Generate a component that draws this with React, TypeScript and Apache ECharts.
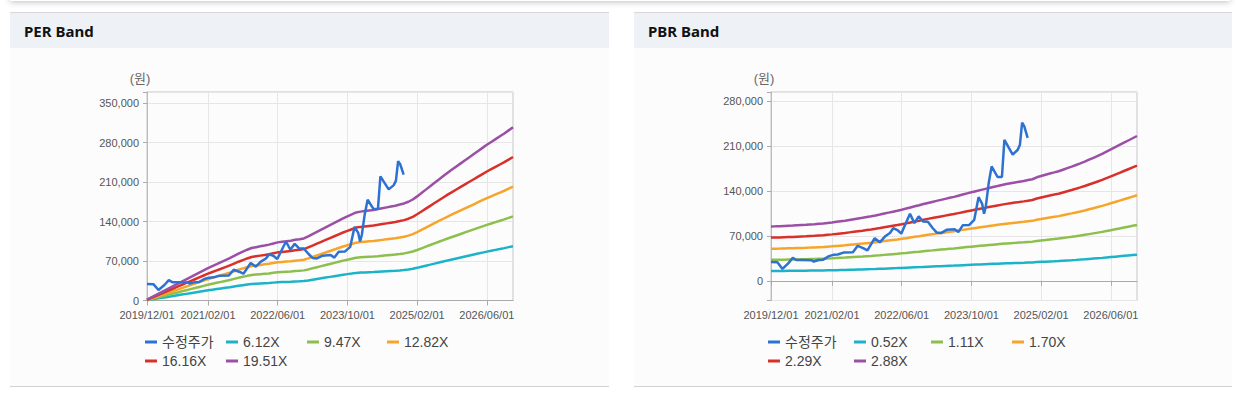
import React, { useEffect, useRef } from "react";
import * as echarts from "echarts";

// ---------- data ----------
const LABEL_DATES = ["2019/12/01", "2021/02/01", "2022/06/01", "2023/10/01", "2025/02/01", "2026/06/01"];

const MONTHS: string[] = [];
for (let y = 2019, m = 12; y < 2026 || (y === 2026 && m <= 12); ) {
  MONTHS.push(`${y}/${String(m).padStart(2, "0")}/01`);
  m++;
  if (m > 12) { m = 1; y++; }
}

const PER_MULTIPLES = [6.12, 9.47, 12.82, 16.16, 19.51];
const PBR_MULTIPLES = [0.52, 1.11, 1.7, 2.29, 2.88];
const BAND_COLORS = ["#1cb3c8", "#8cbf4e", "#f7a52a", "#d8302b", "#9b50a6"];
const PRICE_COLOR = "#2d72d2";

// EPS (monthly, 2019/12 .. 2026/12)
const EPS = [
  77, 282, 487, 692, 897, 1102, 1307, 1512, 1717, 1922, 2127, 2332, 2537, 2742, 2947,
  3127, 3306, 3485, 3665, 3844, 4049, 4254, 4434, 4613, 4767, 4844, 4921, 4997, 5074, 5177,
  5279, 5331, 5382, 5433, 5510, 5561, 5638, 5818, 6023, 6228, 6433, 6638, 6843, 7048, 7253,
  7458, 7637, 7816, 7996, 8073, 8124, 8175, 8227, 8303, 8380, 8457, 8534, 8611, 8713, 8816,
  8970, 9175, 9457, 9764, 10072, 10379, 10687, 10994, 11302, 11609, 11891, 12173, 12455, 12737, 13019,
  13301, 13583, 13865, 14147, 14403, 14659, 14915, 15172, 15454, 15735,
];

// BPS (monthly, 2019/12 .. 2026/12)
const BPS = [
  29479, 29514, 29583, 29688, 29792, 29896, 30035, 30174, 30313, 30486, 30660, 30868, 31076, 31354, 31632,
  31944, 32257, 32569, 32986, 33368, 33750, 34132, 34549, 34965, 35417, 35903, 36424, 36944, 37465, 37986,
  38542, 39132, 39757, 40382, 40972, 41597, 42188, 42743, 43299, 43854, 44410, 44965, 45486, 46111, 46736,
  47361, 47951, 48542, 49132, 49688, 50243, 50799, 51354, 51910, 52431, 52882, 53299, 53715, 54132, 54583,
  55035, 56076, 56771, 57465, 58160, 58750, 59375, 60208, 61042, 61875, 62743, 63646, 64583, 65625, 66667,
  67708, 68750, 69965, 71181, 72396, 73611, 74826, 76042, 77257, 78472,
];

// adjusted stock price (수정주가)
const PRICE_DATES = [
  "2019-12-01", "2020-01-15", "2020-02-20", "2020-04-01", "2020-05-01", "2020-05-25", "2020-07-01",
  "2020-09-10", "2020-09-25", "2020-11-01", "2020-12-01", "2021-01-05", "2021-02-10", "2021-03-10",
  "2021-04-20", "2021-06-25", "2021-07-28", "2021-09-05", "2021-10-05", "2021-11-25", "2021-12-30",
  "2022-02-05", "2022-03-10", "2022-04-03", "2022-05-05", "2022-05-28", "2022-06-20", "2022-07-28",
  "2022-08-28", "2022-09-28", "2022-10-28", "2022-12-01", "2023-01-05", "2023-02-01", "2023-03-01",
  "2023-04-10", "2023-06-05", "2023-07-01", "2023-08-01", "2023-09-15", "2023-10-20", "2023-11-20",
  "2023-12-15", "2023-12-28", "2024-01-10", "2024-01-30", "2024-02-20", "2024-04-01", "2024-05-01",
  "2024-05-18", "2024-07-15", "2024-08-20", "2024-09-05", "2024-09-20", "2024-10-05", "2024-10-28",
];
const PRICE_VALUES = [
  29200, 29000, 18500, 27500, 36000, 32500, 32500,
  32000, 30000, 32500, 33000, 38000, 40500, 41000,
  44000, 44500, 54500, 51000, 47500, 66500, 60000,
  69000, 74500, 82000, 78500, 73500, 85000, 104500,
  90000, 100500, 92500, 92000, 82000, 75500, 74500,
  79500, 80500, 76000, 86500, 87000, 95000, 130500,
  120000, 104500, 116000, 152500, 178500, 162000, 162000,
  220000, 197000, 204500, 212500, 247000, 241000, 223000,
];

const PER_Y = { min: 0, max: 369500 };
const PBR_Y = { min: -30800, max: 294700 };
const Y_STEP = 70000;

// ---------- helpers ----------
const monthPos = (s: string) => {
  const [y, m, d] = s.split("-").map(Number);
  return (y - 2019) * 12 + (m - 12) + (d - 1) / 30;
};
const fmt = (v: number) =>
  Math.abs(v % Y_STEP) > 1 ? "" : String(Math.round(v)).replace(/\B(?=(\d{3})+(?!\d))/g, ",");
const showLabel = (_i: number, val: string) => LABEL_DATES.includes(val);

const FONT = "Arial, 'Liberation Sans', 'Noto Sans CJK KR', sans-serif";

function buildGrid(g: number, left: number, yr: { min: number; max: number }) {
  const grid = { left, top: 92, width: 366, height: 208.5, show: true, borderColor: "#c6c6c6", borderWidth: 1 };
  const xCat = {
    type: "category", gridIndex: g, data: MONTHS, boundaryGap: false,
    axisLine: { show: true, lineStyle: { color: "#aaaaaa" } },
    axisTick: { show: true, interval: showLabel, length: 5, lineStyle: { color: "#aaaaaa" } },
    axisLabel: { interval: showLabel, color: "#555", fontSize: 11, fontFamily: FONT, margin: 9 },
    splitLine: { show: true, interval: showLabel, lineStyle: { color: "#e6e6e6" } },
  };
  const xVal = { type: "value", gridIndex: g, min: 0, max: MONTHS.length - 1, show: false };
  const y = {
    type: "value", gridIndex: g, min: yr.min, max: yr.max, minInterval: Y_STEP, maxInterval: Y_STEP,
    name: "(원)", nameLocation: "end", nameGap: 7,
    nameTextStyle: { color: "#666", fontSize: 13, fontFamily: FONT, padding: [0, 14, 0, 0] },
    axisLine: { show: true, lineStyle: { color: "#bbbbbb" } },
    axisTick: { show: true, length: 4, lineStyle: { color: "#aaaaaa" } },
    axisLabel: { color: "#555", fontSize: 11, fontFamily: FONT, margin: 8, formatter: fmt },
    splitLine: { show: true, lineStyle: { color: "#e6e6e6" } },
  };
  return { grid, xCat, xVal, y };
}

function bandSeries(g: number, perShare: number[], mults: number[]) {
  return mults.map((m, k) => ({
    type: "line", name: `${m.toFixed(2)}X`, xAxisIndex: g * 2, yAxisIndex: g,
    data: perShare.map((v) => Math.round(v * m)),
    symbol: "none", showSymbol: false, silent: true,
    lineStyle: { width: 2.5, color: BAND_COLORS[k] }, itemStyle: { color: BAND_COLORS[k] },
  }));
}

function priceSeries(g: number) {
  return {
    type: "line", name: "수정주가", xAxisIndex: g * 2 + 1, yAxisIndex: g,
    data: PRICE_DATES.map((d, i) => [monthPos(d), PRICE_VALUES[i]]),
    symbol: "none", showSymbol: false, silent: true,
    lineStyle: { width: 2.5, color: PRICE_COLOR }, itemStyle: { color: PRICE_COLOR },
  };
}

function legendItems(names: string[], pos: number[][]) {
  return names.map((n, i) => ({
    data: [n], left: pos[i][0], top: pos[i][1] - 8, padding: 0, icon: "rect",
    itemWidth: 12, itemHeight: 3, itemGap: 0, selectedMode: false,
    textStyle: { fontSize: 14, color: "#444", fontFamily: FONT },
  }));
}

function panel(x: number, w: number) {
  return [
    { type: "rect", z: -10, shape: { x, y: 12, width: w, height: 374 }, style: { fill: "#fcfcfc" } },
    { type: "rect", z: -9, shape: { x, y: 12, width: w, height: 36 }, style: { fill: "#eef2f7" } },
    { type: "line", z: -8, shape: { x1: x, y1: 12.5, x2: x + w, y2: 12.5 }, style: { stroke: "#d8d8d8", lineWidth: 1 } },
    { type: "line", z: -8, shape: { x1: x, y1: 386.5, x2: x + w, y2: 386.5 }, style: { stroke: "#d2d2d2", lineWidth: 1 } },
  ];
}

export default function App() {
  const ref = useRef<HTMLDivElement>(null);
  useEffect(() => {
    if (!ref.current) return;
    const chart = echarts.init(ref.current, undefined, { renderer: "svg" });
    const L = buildGrid(0, 147, PER_Y);
    const R = buildGrid(1, 771, PBR_Y);
    const perNames = ["수정주가", ...PER_MULTIPLES.map((m) => `${m.toFixed(2)}X`)];
    const pbrNames = ["수정주가", ...PBR_MULTIPLES.map((m) => `${m.toFixed(2)}X`)];
    const option: any = {
      animation: false,
      backgroundColor: "#ffffff",
      title: [
        { text: "PER Band", left: 24, top: 23, padding: 0, textStyle: { fontSize: 15, fontWeight: "bold", color: "#111", fontFamily: "'Noto Sans', sans-serif" } },
        { text: "PBR Band", left: 648, top: 23, padding: 0, textStyle: { fontSize: 15, fontWeight: "bold", color: "#111", fontFamily: "'Noto Sans', sans-serif" } },
      ],
      grid: [L.grid, R.grid],
      xAxis: [L.xCat, L.xVal, R.xCat, R.xVal],
      yAxis: [L.y, R.y],
      legend: [
        ...legendItems(perNames, [[145, 343], [226, 343], [307, 343], [387, 343], [145, 362], [226, 362]]),
        ...legendItems(pbrNames, [[768, 343], [854, 343], [931, 343], [1012, 343], [768, 362], [854, 362]]),
      ],
      graphic: [
        { type: "rect", z: -11, shape: { x: 10, y: -20, width: 1220, height: 21 }, style: { fill: "#fff", shadowBlur: 6, shadowColor: "rgba(0,0,0,0.25)", shadowOffsetY: 1 } },
        ...panel(10, 599),
        ...panel(634, 598),
      ],
      series: [
        ...bandSeries(0, EPS, PER_MULTIPLES),
        priceSeries(0),
        ...bandSeries(1, BPS, PBR_MULTIPLES),
        priceSeries(1),
      ],
    };
    chart.setOption(option);
    return () => chart.dispose();
  }, []);
  return <div ref={ref} style={{ position: "absolute", left: 0, top: 0, width: 1248, height: 397 }} />;
}
